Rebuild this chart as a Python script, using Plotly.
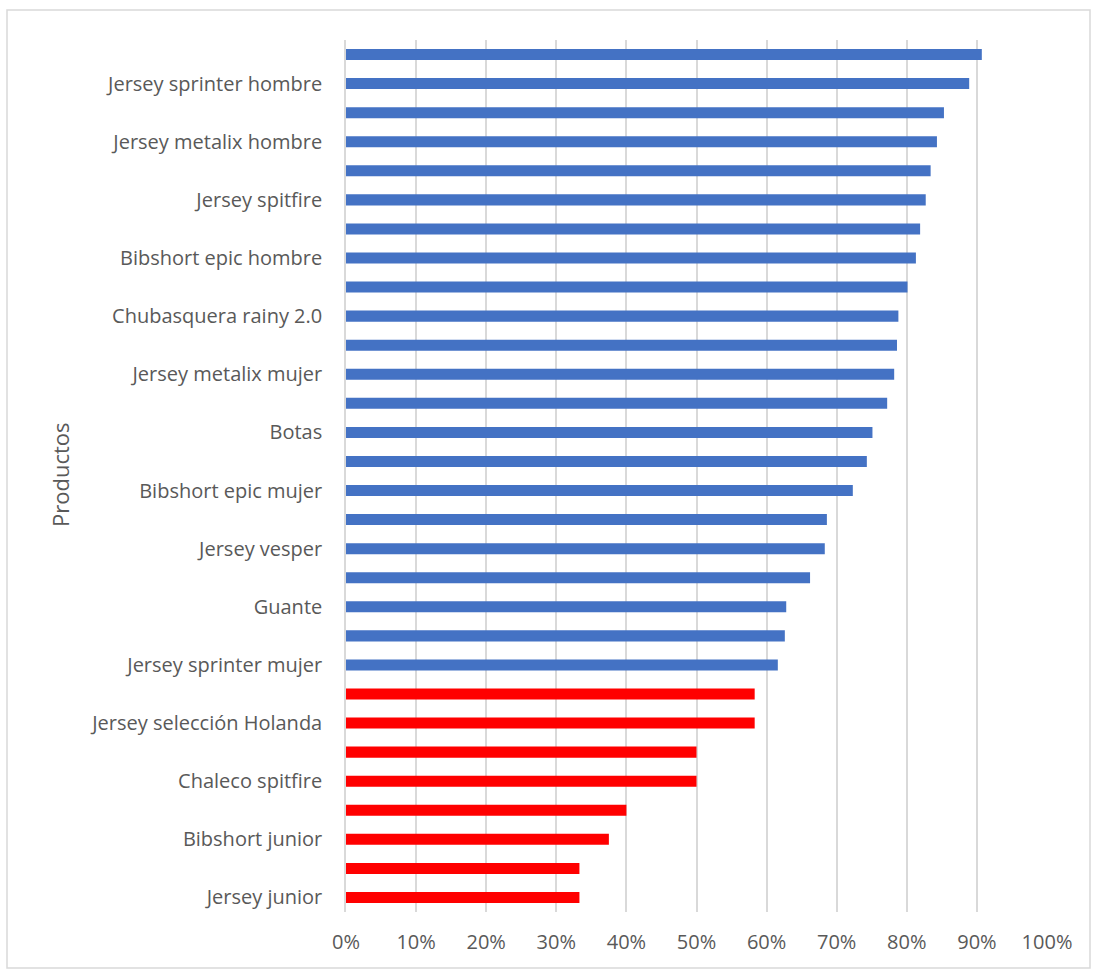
import plotly.graph_objects as go

productos = [
    "Producto 1", "Jersey sprinter hombre",
    "Producto 3", "Jersey metalix hombre",
    "Producto 5", "Jersey spitfire",
    "Producto 7", "Bibshort epic hombre",
    "Producto 9", "Chubasquera rainy 2.0",
    "Producto 11", "Jersey metalix mujer",
    "Producto 13", "Botas",
    "Producto 15", "Bibshort epic mujer",
    "Producto 17", "Jersey vesper",
    "Producto 19", "Guante",
    "Producto 21", "Jersey sprinter mujer",
    "Producto 23", "Jersey selección Holanda",
    "Producto 25", "Chaleco spitfire",
    "Producto 27", "Bibshort junior",
    "Producto 29", "Jersey junior",
]
valores = [
    0.907, 0.889, 0.853, 0.843, 0.834, 0.827, 0.819, 0.813, 0.801, 0.788,
    0.786, 0.782, 0.772, 0.751, 0.743, 0.723, 0.686, 0.683, 0.662, 0.628,
    0.626, 0.616, 0.583, 0.583, 0.500, 0.500, 0.400, 0.375, 0.333, 0.333,
]
etiquetas = [p for i, p in enumerate(productos) if i % 2 == 1]

umbral = 0.6
colores = ["#4472C4" if v >= umbral else "#FF0000" for v in valores]

fig = go.Figure(go.Bar(
    x=valores, y=productos, orientation="h",
    marker=dict(color=colores, line=dict(width=0)),
    width=0.38,
))

W, H = 1094, 973
L, R, T, B = 346, 47, 40, 61
pw, ph = W - L - R, H - T - B

font_fam = "'Open Sans', sans-serif"
fs = 20
fig.update_layout(
    width=W, height=H,
    margin=dict(l=L, r=R, t=T, b=B),
    paper_bgcolor="white", plot_bgcolor="white",
    showlegend=False,
    font=dict(family=font_fam, size=fs, color="#595959"),
    xaxis=dict(
        range=[0, 1.0], tickformat=".0%", dtick=0.1, tick0=0,
        showgrid=True, gridcolor="#D9D9D9", gridwidth=1.5,
        zeroline=False, showline=False, ticks="",
        ticklabelstandoff=16,
        tickfont=dict(size=fs, color="#595959"),
    ),
    yaxis=dict(
        type="category", categoryorder="array", categoryarray=productos[::-1],
        tickmode="array", tickvals=etiquetas, ticktext=etiquetas,
        showgrid=False, zeroline=False,
        showline=True, linecolor="#D9D9D9", linewidth=1.5,
        ticks="", ticklabelstandoff=18,
        tickfont=dict(size=fs, color="#595959"),
        range=[-0.5, len(productos) - 0.5],
    ),
    annotations=[dict(
        text="Productos", textangle=-90, showarrow=False,
        xref="paper", yref="paper",
        x=(60 - L) / pw, y=(H - B - 475) / ph,
        xanchor="center", yanchor="middle",
        font=dict(size=fs + 2, color="#595959", family=font_fam),
    )],
    shapes=[dict(
        type="rect", xref="paper", yref="paper",
        x0=(7 - L) / pw, x1=(1090 - L) / pw,
        y0=(H - B - 968) / ph, y1=(H - B - 10) / ph,
        line=dict(color="#D9D9D9", width=1.5), fillcolor="rgba(0,0,0,0)",
        layer="below",
    )],
)

fig.write_html("out.html")
